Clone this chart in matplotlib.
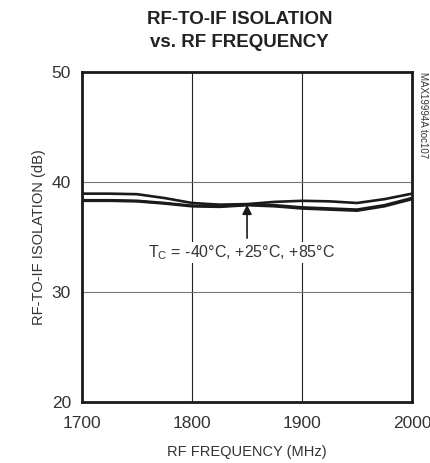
import numpy as np
import matplotlib
matplotlib.use("Agg")
import matplotlib.pyplot as plt

plt.rcParams['font.family'] = ['Liberation Sans', 'DejaVu Sans']
plt.rcParams['mathtext.fontset'] = 'custom'
plt.rcParams['mathtext.rm'] = 'Liberation Sans'
plt.rcParams['mathtext.it'] = 'Liberation Sans'

# RF frequency (MHz)
freq = [1700, 1725, 1750, 1775, 1800, 1825, 1850, 1875, 1900, 1925, 1950, 1975, 2000]

# RF-to-IF isolation (dB) at three case temperatures
iso_a = [38.95, 38.95, 38.9, 38.55, 38.1, 37.95, 38.0, 38.2, 38.3, 38.25, 38.1, 38.45, 38.95]
iso_b = [38.35, 38.35, 38.3, 38.1, 37.85, 37.8, 37.95, 37.9, 37.7, 37.6, 37.5, 37.9, 38.55]
iso_c = [38.3, 38.3, 38.25, 38.05, 37.8, 37.75, 37.9, 37.8, 37.6, 37.5, 37.4, 37.8, 38.45]

x_ticks = [1700, 1800, 1900, 2000]
y_ticks = [20, 30, 40, 50]

fig = plt.figure(figsize=(4.3, 4.63), dpi=100)
ax = fig.add_axes([0.191, 0.132, 0.767, 0.712])

for s in [iso_a, iso_b, iso_c]:
    ax.plot(freq, s, color='#1a1a1a', linewidth=1.9, zorder=3)

ax.set_xlim(1700, 2000)
ax.set_ylim(20, 50)
ax.set_xticks(x_ticks)
ax.set_yticks(y_ticks)
ax.tick_params(length=0, labelsize=12.5, colors='#333333')
ax.tick_params(axis='x', pad=10)
ax.tick_params(axis='y', pad=8)

for xv in x_ticks[1:-1]:
    ax.axvline(xv, color='#222222', linewidth=0.8, zorder=1)
for yv in y_ticks[1:-1]:
    ax.axhline(yv, color='#777777', linewidth=0.8, zorder=1)

for sp in ax.spines.values():
    sp.set_linewidth(2.0)
    sp.set_color('#1a1a1a')

ax.set_xlabel('RF FREQUENCY (MHz)', fontsize=10.5, color='#333333', labelpad=10)
ax.set_ylabel('RF-TO-IF ISOLATION (dB)', fontsize=10.5, color='#333333', labelpad=4)

fig.text(0.557, 0.933, 'RF-TO-IF ISOLATION\nvs. RF FREQUENCY', ha='center', va='center',
         fontsize=13.5, fontweight='bold', color='#222222', linespacing=1.5)

ax.annotate('', xy=(1850, 37.95), xytext=(1850, 34.9),
            arrowprops=dict(arrowstyle='-|>', color='#1a1a1a', lw=1.2,
                            mutation_scale=14, shrinkA=0, shrinkB=0))
ax.text(1845, 33.6, r'T$_{\mathrm{C}}$ = -40°C, +25°C, +85°C', ha='center', va='center',
        fontsize=11.5, color='#333333',
        bbox=dict(facecolor='white', edgecolor='none', pad=1))

fig.text(0.983, 0.845, 'MAX19994A toc107', rotation=270, ha='center', va='top',
         fontsize=7, color='#333333')

fig.savefig('out.png', dpi=100)
